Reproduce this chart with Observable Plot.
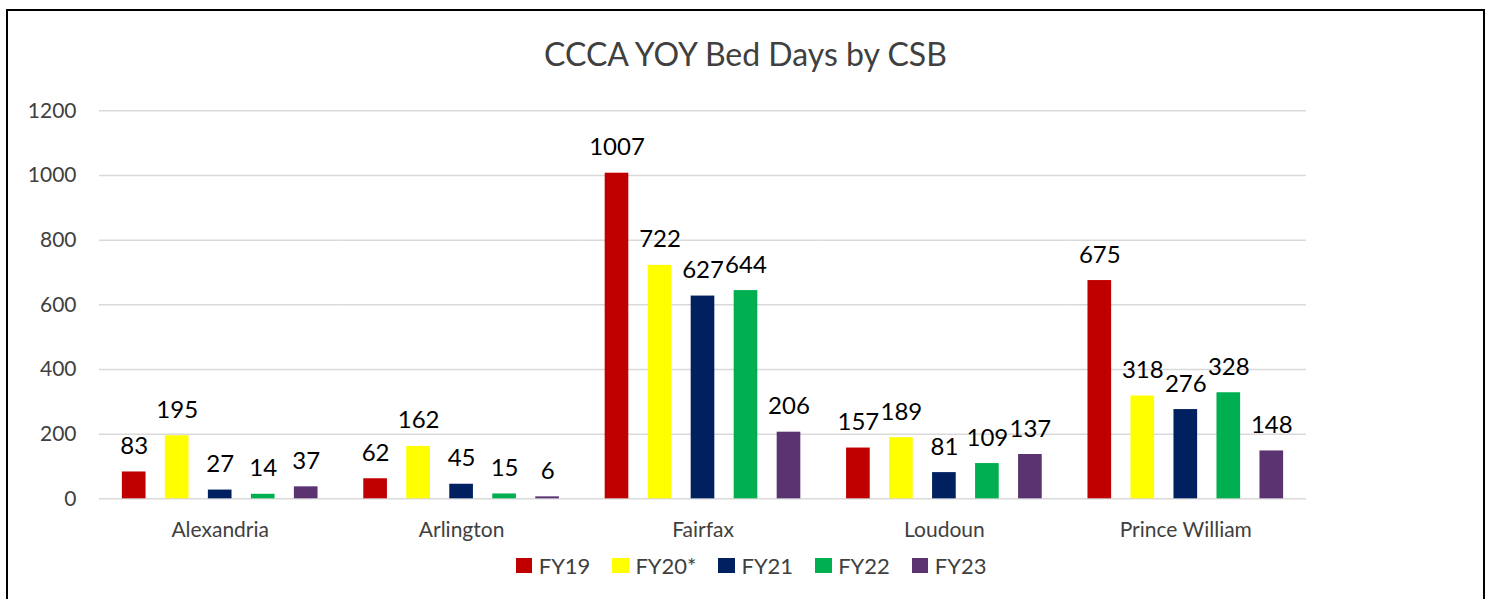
<!DOCTYPE html>
<html>
<head>
<meta charset="utf-8">
<script src="https://cdn.jsdelivr.net/npm/d3@7"></script>
<script src="https://cdn.jsdelivr.net/npm/@observablehq/plot@0.6"></script>
<style>
  html, body { margin: 0; padding: 0; background: #fff; }
  body { width: 1485px; height: 599px; position: relative; overflow: hidden; font-family: Lato, "Open Sans", sans-serif; }
  #frame { position: absolute; left: 6px; top: 9px; width: 1479px; height: 640px; border: 2px solid #000; box-sizing: border-box; pointer-events: none; }
  #title { position: absolute; left: 0; top: 38.4px; width: 1491px; text-align: center; font-size: 32px; line-height: 1; color: #404040; white-space: nowrap; }
  #chart { position: absolute; left: 0; top: 0; }
  #legend { position: absolute; left: 515.7px; top: 554.8px; display: flex; align-items: flex-start; font-size: 22px; line-height: 1; color: #404040; }
  #legend .item { display: flex; align-items: flex-start; margin-right: 22px; }
  #legend .sw { width: 16.5px; height: 15.6px; margin-top: 2.9px; margin-right: 6.5px; }
</style>
</head>
<body>
<div id="title"></div>
<div id="chart"></div>
<div id="legend"></div>
<div id="frame"></div>
<script>
const titleText = "CCCA YOY Bed Days by CSB";
const categories = ["Alexandria", "Arlington", "Fairfax", "Loudoun", "Prince William"];
const series = ["FY19", "FY20*", "FY21", "FY22", "FY23"];
const FY19 = [83, 62, 1007, 157, 675];
const FY20 = [195, 162, 722, 189, 318];
const FY21 = [27, 45, 627, 81, 276];
const FY22 = [14, 15, 644, 109, 328];
const FY23 = [37, 6, 206, 137, 148];
const colors = ["#C00000", "#FFFF00", "#002060", "#00B050", "#5B3370"];
const yTicks = [0, 200, 400, 600, 800, 1000, 1200];

const seriesValues = [FY19, FY20, FY21, FY22, FY23];
const data = [];
categories.forEach((c, i) => {
  series.forEach((s, j) => {
    data.push({category: c, series: s, value: seriesValues[j][i]});
  });
});

document.getElementById("title").textContent = titleText;

const chart = Plot.plot({
  width: 1485,
  height: 599,
  marginLeft: 99,
  marginRight: 179,
  marginTop: 110.3,
  marginBottom: 100.7,
  style: {fontFamily: "Lato, 'Open Sans', sans-serif", background: "transparent", overflow: "visible"},
  fx: {domain: categories, padding: 0, round: false, label: null},
  x: {domain: series, paddingInner: 0.45, paddingOuter: 0.532, round: false, axis: null},
  y: {domain: [0, 1200], label: null},
  color: {domain: series, range: colors},
  marks: [
    Plot.ruleY(yTicks, {stroke: "#d9d9d9", strokeWidth: 1.5}),
    Plot.barY(data, {fx: "category", x: "series", y: "value", fill: "series"}),
    Plot.text(data, {fx: "category", x: "series", y: "value", text: d => String(d.value), dy: -18, lineAnchor: "bottom", fontSize: 24, fill: "#000"}),
    Plot.axisY({ticks: yTicks, tickFormat: d => String(d), tickSize: 0, tickPadding: 23, fontSize: 21, fill: "#404040", label: null}),
    Plot.axisFx({anchor: "bottom", tickSize: 0, tickPadding: 23.5, fontSize: 21, fill: "#404040", label: null})
  ]
});
document.getElementById("chart").appendChild(chart);

const legend = document.getElementById("legend");
series.forEach((s, i) => {
  const item = document.createElement("div");
  item.className = "item";
  const sw = document.createElement("div");
  sw.className = "sw";
  sw.style.background = colors[i];
  const label = document.createElement("span");
  label.textContent = s;
  item.appendChild(sw);
  item.appendChild(label);
  legend.appendChild(item);
});
</script>
</body>
</html>
